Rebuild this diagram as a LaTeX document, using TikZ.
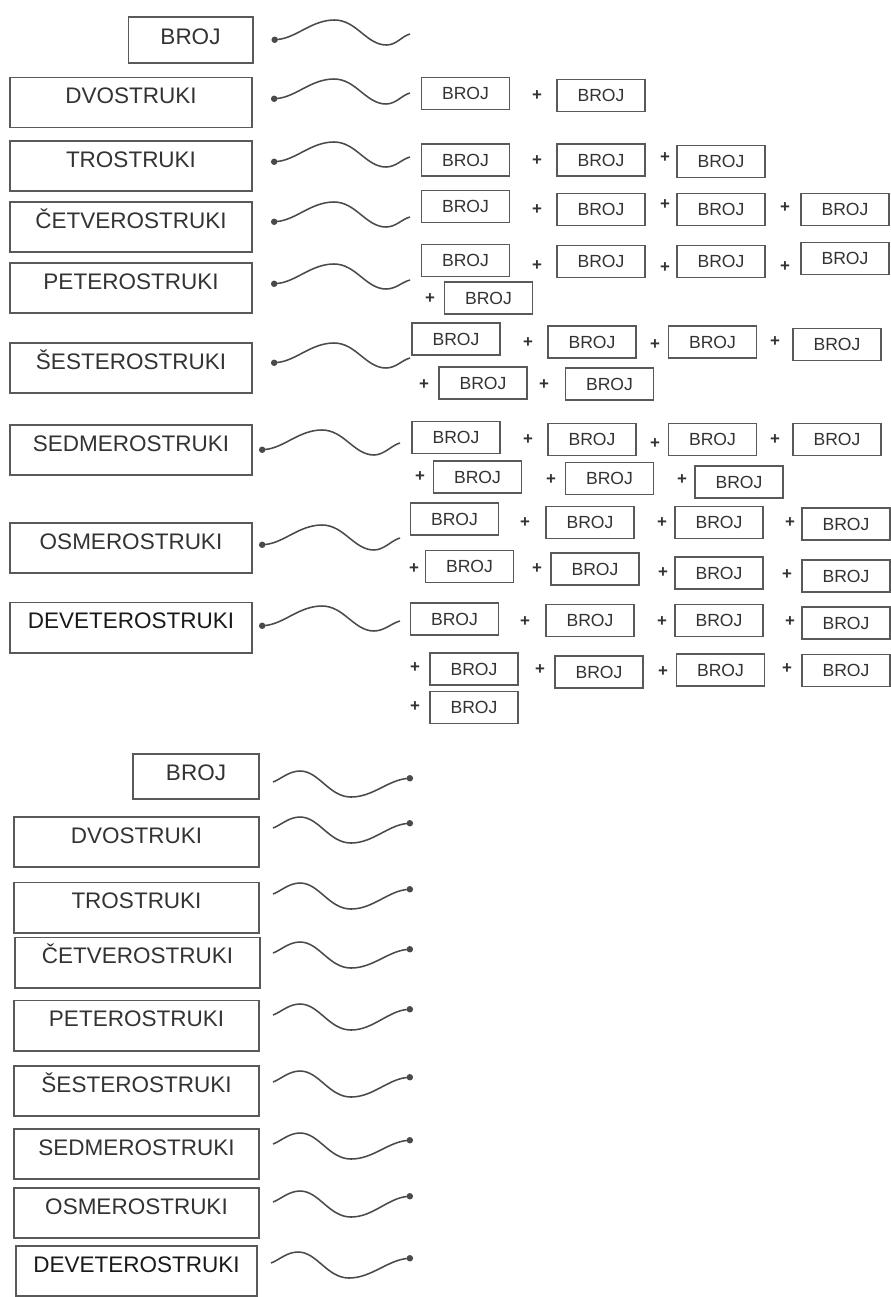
\documentclass[tikz,border=0pt]{standalone}
\usepackage{fontspec}
\setmainfont{Liberation Sans}
\usepackage{tikz}
\usetikzlibrary{
  arrows.meta,
  calc
}
\definecolor{boxgray}{HTML}{595959}
\definecolor{textgray}{HTML}{333333}
\definecolor{linegray}{HTML}{4A4A4A}

\begin{document}
\begin{tikzpicture}[
  x=0.025cm, y=-0.025cm,
  wordB/.style={
    draw=boxgray, line width=1.4pt, minimum width=6.05cm, inner xsep=0pt, inner ysep=0pt,
    text height=0.65cm, text depth=0.6cm, font=\fontsize{16pt}{18pt}\selectfont, text=textgray,
  },
  wordC/.style={wordB, minimum width=6.125cm},
  brojB/.style={wordB, minimum width=3.1cm, text height=0.68cm, text depth=0.46cm},
  sumB/.style={
    draw=boxgray, line width=1.1pt, minimum width=2.2cm, minimum height=0.8cm, inner sep=0pt,
    font=\fontsize{12.5pt}{14pt}\selectfont, text=textgray,
  },
  plusT/.style={inner sep=0pt, font=\fontsize{12pt}{12pt}\bfseries\selectfont, text=black!80},
  wavein/.style={
    draw=linegray, line width=1.1pt, {Circle[length=4.5pt]}-,
    to path={.. controls ($(\tikztostart)+(25,-2)$) and ($(\tikztostart)+(40,-20)$) .. ($(\tikztostart)+(63,-20)$)
      .. controls ($(\tikztostart)+(85,-20)$) and ($(\tikztostart)+(95,5)$) .. ($(\tikztostart)+(115,5)$)
      .. controls ($(\tikztostart)+(125,5)$) and ($(\tikztotarget)+(-8,2)$) .. (\tikztotarget)},
  },
  waveout/.style={
    draw=linegray, line width=1.1pt, -{Circle[length=4.5pt]},
    to path={.. controls ($(\tikztostart)+(8,-3)$) and ($(\tikztostart)+(16,-11)$) .. ($(\tikztostart)+(27,-11)$)
      .. controls ($(\tikztostart)+(46,-11)$) and ($(\tikztostart)+(56,15)$) .. ($(\tikztostart)+(78,15)$)
      .. controls ($(\tikztostart)+(100,15)$) and ($(\tikztotarget)+(-25,2)$) .. (\tikztotarget)},
  },
]
\useasboundingbox[fill=white] (0,0) rectangle (890,1297);

% Top part - names
\node[brojB] (t1) at (190.5,40) {BROJ};
\node[wordB] (t2) at (131,102.5) {DVOSTRUKI};
\node[wordB] (t3) at (131,166) {TROSTRUKI};
\node[wordB] (t4) at (131,227) {ČETVEROSTRUKI};
\node[wordB] (t5) at (131,288) {PETEROSTRUKI};
\node[wordB] (t6) at (131,368) {ŠESTEROSTRUKI};
\node[wordB] (t7) at (131,450) {SEDMEROSTRUKI};
\node[wordB] (t8) at (131,548) {OSMEROSTRUKI};
\node[wordB, text=black!90] (t9) at (131,627.5) {DEVETEROSTRUKI};

% Top part - sums
\node[sumB] (r2a) at (465.5,93.5) {BROJ};
\node[plusT] (q2a) at (537,96) {+};
\node[sumB] (r2b) at (601,95.5) {BROJ};

\node[sumB] (r3a) at (465.5,160) {BROJ};
\node[plusT] (q3a) at (537,161) {+};
\node[sumB] (r3b) at (601,160) {BROJ};
\node[plusT] (q3b) at (665,158) {+};
\node[sumB] (r3c) at (721,161.5) {BROJ};

\node[sumB] (r4a) at (465.5,206.5) {BROJ};
\node[plusT] (q4a) at (537,210) {+};
\node[sumB] (r4b) at (601,209.5) {BROJ};
\node[plusT] (q4b) at (665,205) {+};
\node[sumB] (r4c) at (721,209.5) {BROJ};
\node[plusT] (q4c) at (785,208) {+};
\node[sumB] (r4d) at (845,209.5) {BROJ};

\node[sumB] (r5a) at (465.5,260.5) {BROJ};
\node[plusT] (q5a) at (537,266) {+};
\node[sumB] (r5b) at (601,261.5) {BROJ};
\node[plusT] (q5b) at (665,268) {+};
\node[sumB] (r5c) at (721,261.5) {BROJ};
\node[plusT] (q5c) at (785,267) {+};
\node[sumB] (r5d) at (845,258.5) {BROJ};
\node[plusT] (q5d) at (430,299) {+};
\node[sumB] (r5e) at (488.5,298) {BROJ};

\node[sumB] (r6a) at (456,339) {BROJ};
\node[plusT] (q6a) at (528,343) {+};
\node[sumB] (r6b) at (592,342) {BROJ};
\node[plusT] (q6b) at (655,345) {+};
\node[sumB] (r6c) at (712.5,342) {BROJ};
\node[plusT] (q6c) at (775,342) {+};
\node[sumB] (r6d) at (837,344.5) {BROJ};
\node[plusT] (q6d) at (424,385) {+};
\node[sumB] (r6e) at (483,383) {BROJ};
\node[plusT] (q6e) at (544,385) {+};
\node[sumB] (r6f) at (609.5,384) {BROJ};

\node[sumB] (r7a) at (456,437.5) {BROJ};
\node[plusT] (q7a) at (528,440) {+};
\node[sumB] (r7b) at (592,439.5) {BROJ};
\node[plusT] (q7b) at (655,444) {+};
\node[sumB] (r7c) at (712.5,439.5) {BROJ};
\node[plusT] (q7c) at (775,440) {+};
\node[sumB] (r7d) at (837,439.5) {BROJ};
\node[plusT] (q7d) at (420,477) {+};
\node[sumB] (r7e) at (477.5,477) {BROJ};
\node[plusT] (q7e) at (551,480) {+};
\node[sumB] (r7f) at (609.5,478.5) {BROJ};
\node[plusT] (q7f) at (682,480) {+};
\node[sumB] (r7g) at (739,482) {BROJ};

\node[sumB] (r8a) at (454.5,519) {BROJ};
\node[plusT] (q8a) at (525,523) {+};
\node[sumB] (r8b) at (590,522.5) {BROJ};
\node[plusT] (q8b) at (662,523) {+};
\node[sumB] (r8c) at (719,522.5) {BROJ};
\node[plusT] (q8c) at (790,523) {+};
\node[sumB] (r8d) at (846,524) {BROJ};
\node[plusT] (q8d) at (414,569) {+};
\node[sumB] (r8e) at (469.5,566.5) {BROJ};
\node[plusT] (q8e) at (537,569) {+};
\node[sumB] (r8f) at (595,569) {BROJ};
\node[plusT] (q8f) at (663,573) {+};
\node[sumB] (r8g) at (719,573) {BROJ};
\node[plusT] (q8g) at (787,575) {+};
\node[sumB] (r8h) at (846,576) {BROJ};

\node[sumB] (r9a) at (454.5,619) {BROJ};
\node[plusT] (q9a) at (525,622) {+};
\node[sumB] (r9b) at (590,620.5) {BROJ};
\node[plusT] (q9b) at (662,622) {+};
\node[sumB] (r9c) at (719,620.5) {BROJ};
\node[plusT] (q9c) at (790,622) {+};
\node[sumB] (r9d) at (846,623) {BROJ};
\node[plusT] (q9d) at (415,668) {+};
\node[sumB] (r9e) at (474,669) {BROJ};
\node[plusT] (q9e) at (540,670) {+};
\node[sumB] (r9f) at (599,672) {BROJ};
\node[plusT] (q9f) at (663,672) {+};
\node[sumB] (r9g) at (720.5,670) {BROJ};
\node[plusT] (q9g) at (787,669) {+};
\node[sumB] (r9h) at (846,670.5) {BROJ};
\node[plusT] (q9h) at (415,707) {+};
\node[sumB] (r9i) at (474,707.5) {BROJ};

% Top part - waves
\coordinate (e1) at (410,34);
\coordinate (e2) at (410,93);
\coordinate (e3) at (410,157);
\coordinate (e4) at (410,217);
\coordinate (e5) at (410,280);
\coordinate (e6) at (410,358);
\coordinate (e7) at (400,443);
\coordinate (e8) at (400,538);
\coordinate (e9) at (400,621);
\draw[wavein] ($(t1.east)+(18,0)$) to (e1);
\draw[wavein] ($(t2.east)+(18,-3.5)$) to (e2);
\draw[wavein] ($(t3.east)+(18,-4)$) to (e3);
\draw[wavein] ($(t4.east)+(18,-5)$) to (e4);
\draw[wavein] ($(t5.east)+(18,-4)$) to (e5);
\draw[wavein] ($(t6.east)+(18,-5)$) to (e6);
\draw[wavein] ($(t7.east)+(6,0)$) to (e7);
\draw[wavein] ($(t8.east)+(6,-3)$) to (e8);
\draw[wavein] ($(t9.east)+(6,-1.5)$) to (e9);

% Bottom part - names
\node[brojB, minimum width=3.15cm] (u1) at (196,776.5) {BROJ};
\node[wordC] (u2) at (136.5,842) {DVOSTRUKI};
\node[wordC] (u3) at (136.5,907.5) {TROSTRUKI};
\node[wordC] (u4) at (137.5,962.5) {ČETVEROSTRUKI};
\node[wordC] (u5) at (136.5,1025.5) {PETEROSTRUKI};
\node[wordC] (u6) at (136.5,1091) {ŠESTEROSTRUKI};
\node[wordC] (u7) at (136.5,1154) {SEDMEROSTRUKI};
\node[wordC] (u8) at (136.5,1213) {OSMEROSTRUKI};
\node[wordC, minimum width=6.025cm, text=black!90] (u9) at (136.5,1271) {DEVETEROSTRUKI};

% Bottom part - waves
\coordinate (f1) at (413,778);
\coordinate (f2) at (413,823);
\coordinate (f3) at (413,889);
\coordinate (f4) at (413,949);
\coordinate (f5) at (413,1009);
\coordinate (f6) at (413,1077);
\coordinate (f7) at (413,1140);
\coordinate (f8) at (413,1196);
\coordinate (f9) at (413,1258);
\draw[waveout] ($(u1.east)+(13,5.5)$) to (f1);
\draw[waveout] ($(u2.east)+(13,-14)$) to (f2);
\draw[waveout] ($(u3.east)+(13,-13.5)$) to (f3);
\draw[waveout] ($(u4.east)+(12,-9.5)$) to (f4);
\draw[waveout] ($(u5.east)+(13,-10.5)$) to (f5);
\draw[waveout] ($(u6.east)+(13,-9)$) to (f6);
\draw[waveout] ($(u7.east)+(13,-10)$) to (f7);
\draw[waveout] ($(u8.east)+(13,-11)$) to (f8);
\draw[waveout] ($(u9.east)+(13,-8)$) to (f9);

\end{tikzpicture}
\end{document}
